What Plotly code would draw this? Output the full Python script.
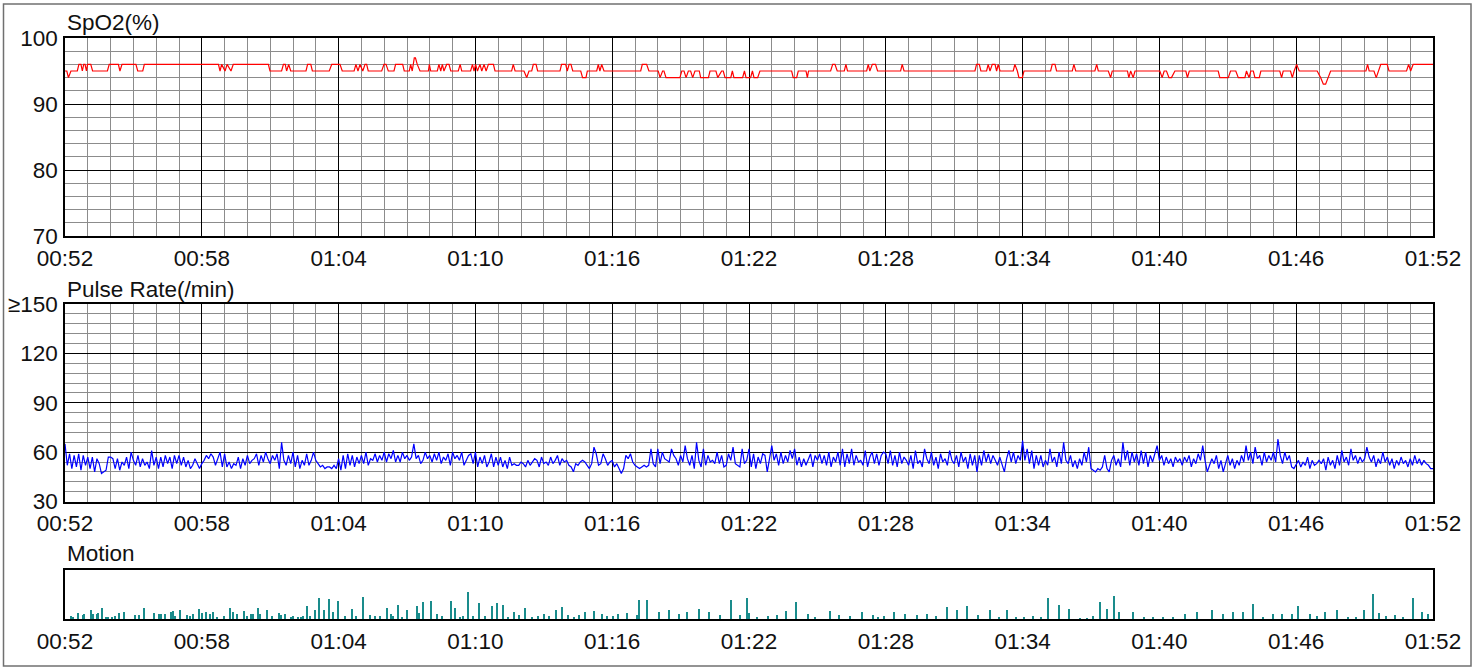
import plotly.graph_objects as go

W, H = 1482, 668

# ---------------- data ----------------
time_labels = ["00:52", "00:58", "01:04", "01:10", "01:16", "01:22",
               "01:28", "01:34", "01:40", "01:46", "01:52"]
tick_minutes = [0, 6, 12, 18, 24, 30, 36, 42, 48, 54, 60]

spo2_ticks = [70, 80, 90, 100]
spo2_tick_text = ["70", "80", "90", "100"]
pulse_ticks = [30, 60, 90, 120, 150]
pulse_tick_text = ["30", "60", "90", "120", "≥150"]

# SpO2 trace vertices (minutes after 00:52, %)
spo2_t = [
    0.00, 0.08, 0.15, 0.26, 0.54, 0.61, 0.70, 0.76, 0.82, 0.88, 0.94, 0.99, 1.13, 1.21, 1.86, 1.94,
    2.34, 2.41, 2.50, 3.11, 3.19, 3.41, 3.48, 6.73, 6.80, 6.87, 7.02, 7.11, 7.28, 7.38, 8.92, 8.99,
    9.50, 9.58, 9.66, 9.72, 9.81, 9.90, 10.57, 10.64, 10.78, 10.85, 11.59, 11.70,
    12.06, 12.16, 12.68, 12.76, 12.85, 12.94, 13.06, 13.16, 13.23, 13.30, 13.89,
    13.99, 14.08, 14.18, 14.43, 14.50, 14.81, 14.88, 15.10, 15.16, 15.23, 15.32, 15.37, 15.45, 15.57,
    15.94, 15.98, 16.04, 16.33, 16.40, 16.48, 16.55, 16.62, 16.74, 16.84, 16.92, 17.25, 17.33, 17.40,
    17.79, 17.87, 17.94, 18.01, 18.09, 18.20, 18.28, 18.38, 18.47, 18.57, 18.79, 18.86,
    19.59, 19.66, 19.74, 20.13, 20.25, 20.35, 20.47, 20.54, 20.66, 20.73, 21.71, 21.78, 21.96, 22.03,
    22.11, 22.19, 22.27, 22.62, 22.70, 22.85, 22.91, 23.32, 23.39, 23.46, 23.54, 23.64, 25.25, 25.32,
    25.51, 25.61, 26.02, 26.10,
    26.21, 26.27, 26.36, 26.97, 27.05, 27.15, 27.24, 27.34, 27.44, 27.53, 27.63, 27.82, 27.88, 28.22,
    28.29, 28.55, 28.63, 28.80, 28.87, 28.95, 29.20, 29.27, 29.34, 29.72, 29.80, 29.87, 30.07, 30.15,
    30.22, 30.38, 30.48,
    31.87, 31.94, 32.09, 32.16, 32.50, 32.56, 32.61, 33.58, 33.67, 33.77, 33.87, 34.18, 34.25, 34.32,
    35.16, 35.23, 35.30, 35.41, 35.55, 35.64, 36.65, 36.72, 36.80, 39.91, 39.98, 40.10, 40.17, 40.42,
    40.49, 40.57, 40.67, 40.79, 40.86, 40.93, 41.01, 41.59, 41.66, 41.77, 41.84, 41.99, 42.06, 43.23,
    43.30, 43.42, 43.49, 44.18, 44.25, 44.33, 45.17, 45.25, 45.32,
    45.76, 45.86, 45.93, 46.60, 46.66, 46.74, 46.85, 46.93, 48.02, 48.12, 48.21, 48.31, 48.42, 48.53,
    48.68, 49.16, 49.23, 49.31, 50.58, 50.65, 51.02, 51.12, 51.35, 51.46, 51.75, 51.82, 51.93, 52.01,
    52.12, 52.19, 52.38, 52.45, 53.28, 53.36, 53.43, 53.75, 53.83, 53.91, 54.02, 54.13, 54.92, 55.07,
    55.19, 55.29, 55.40, 55.51, 57.06, 57.13, 57.20, 57.41, 57.51, 57.61, 57.71, 57.99, 58.07, 58.84,
    58.93, 59.02, 59.13, 60.00,
]
spo2_v = [
    95, 95, 94, 95, 95, 96, 96, 95, 96, 96, 95, 96, 96, 95, 95, 96,
    96, 95, 96, 96, 95, 95, 96, 96, 95, 96, 95, 96, 95, 96, 96, 95,
    95, 96, 96, 95, 96, 95, 95, 96, 96, 95, 95, 96,
    96, 95, 95, 96, 95, 96, 95, 96, 96, 95, 95,
    96, 96, 95, 95, 96, 96, 95, 95, 96, 95, 97, 97, 96, 95,
    95, 96, 95, 95, 96, 95, 96, 95, 96, 96, 95, 95, 96, 95,
    95, 96, 95, 96, 95, 96, 95, 96, 95, 96, 96, 95,
    95, 96, 95, 95, 94, 95, 95, 96, 96, 95, 95, 96, 96, 95,
    96, 96, 95, 95, 94, 94, 95, 95, 96, 95, 96, 95, 95, 96,
    96, 95, 95, 94,
    95, 95, 94, 94, 95, 95, 94, 95, 95, 94, 95, 95, 94, 94,
    95, 95, 94, 95, 95, 94, 94, 95, 94, 94, 95, 94, 94, 95,
    94, 94, 95,
    95, 94, 94, 95, 95, 94, 95, 95, 96, 96, 95, 95, 96, 95,
    95, 96, 95, 96, 96, 95, 95, 96, 95, 95, 96, 96, 95, 95,
    96, 95, 96, 96, 95, 96, 95, 95, 96, 95, 94, 94, 95, 95,
    96, 96, 95, 95, 96, 95, 95, 96, 95,
    95, 94, 95, 95, 94, 95, 94, 95, 95, 94, 95, 95, 94, 94,
    95, 95, 94, 95, 95, 94, 94, 95, 95, 94, 94, 95, 94, 95,
    95, 94, 94, 95, 95, 94, 95, 95, 94, 95, 96, 95, 95, 94,
    93, 93, 94, 95, 95, 96, 95, 95, 94, 95, 96, 96, 95, 95,
    96, 95, 96, 96,
]

# Pulse rate, one reading every 0.1 minute from 00:52 to 01:52
pulse_v = [
    65, 52, 59, 50, 58, 51, 59, 49, 58, 52,
    57, 50, 57, 48, 56, 53, 47, 48, 49, 57,
    57, 56, 50, 56, 49, 54, 52, 57, 50, 60,
    55, 52, 58, 51, 56, 52, 54, 50, 61, 52,
    57, 50, 57, 51, 58, 53, 57, 50, 58, 53,
    58, 52, 57, 51, 55, 50, 52, 56, 53, 50,
    53, 55, 58, 56, 59, 57, 52, 56, 60, 51,
    59, 51, 54, 50, 53, 52, 57, 50, 56, 52,
    58, 53, 55, 56, 59, 52, 58, 54, 60, 56,
    53, 58, 55, 59, 50, 66, 55, 52, 58, 53,
    60, 51, 58, 50, 55, 52, 59, 52, 55, 60,
    55, 53, 51, 52, 50, 51, 51, 50, 52, 50,
    56, 49, 58, 50, 59, 52, 58, 51, 57, 53,
    58, 53, 60, 52, 56, 55, 59, 54, 58, 55,
    60, 54, 59, 56, 61, 54, 58, 54, 60, 56,
    58, 55, 57, 65, 56, 58, 53, 55, 60, 56,
    58, 54, 59, 55, 60, 53, 57, 55, 59, 52,
    60, 56, 58, 55, 60, 52, 55, 58, 59, 53,
    60, 51, 57, 53, 58, 51, 54, 59, 51, 57,
    52, 57, 51, 55, 50, 57, 52, 53, 52, 52,
    54, 53, 51, 55, 52, 54, 56, 55, 51, 57,
    53, 54, 52, 57, 53, 55, 58, 52, 56, 54,
    55, 52, 51, 48, 53, 52, 54, 55, 54, 52,
    50, 53, 63, 59, 52, 53, 59, 56, 52, 54,
    55, 51, 53, 50, 47, 50, 58, 56, 59, 54,
    52, 51, 50, 51, 52, 51, 52, 62, 53, 51,
    62, 53, 60, 56, 55, 54, 62, 58, 56, 52,
    58, 54, 64, 56, 52, 58, 50, 66, 55, 51,
    62, 52, 58, 54, 55, 53, 60, 53, 58, 51,
    52, 59, 55, 63, 53, 52, 51, 62, 53, 55,
    62, 51, 59, 50, 57, 53, 59, 58, 48, 56,
    64, 55, 59, 52, 60, 53, 58, 54, 61, 56,
    62, 52, 57, 51, 56, 52, 56, 59, 51, 58,
    55, 59, 53, 58, 52, 60, 51, 57, 54, 60,
    52, 62, 51, 59, 53, 62, 52, 58, 54, 55,
    52, 61, 51, 57, 60, 53, 59, 52, 58, 60,
    59, 53, 61, 52, 58, 51, 60, 53, 57, 55,
    52, 58, 50, 61, 53, 55, 51, 62, 56, 53,
    60, 52, 57, 50, 59, 54, 56, 52, 61, 55,
    53, 58, 51, 60, 54, 57, 50, 59, 52, 58,
    48, 58, 52, 61, 54, 59, 53, 58, 55, 52,
    57, 52, 48, 56, 61, 54, 60, 53, 58, 55,
    67, 55, 62, 53, 61, 50, 58, 52, 58, 51,
    55, 52, 62, 54, 57, 51, 60, 53, 66, 55,
    53, 58, 51, 55, 50, 56, 52, 60, 54, 63,
    50, 49, 48, 50, 49, 51, 58, 50, 48, 55,
    58, 52, 56, 51, 66, 55, 61, 52, 60, 54,
    59, 52, 61, 53, 60, 51, 58, 54, 60, 64,
    55, 58, 52, 57, 53, 56, 51, 57, 54, 56,
    52, 57, 54, 58, 51, 56, 53, 59, 55, 64,
    55, 48, 52, 56, 53, 58, 50, 55, 48, 53,
    58, 52, 56, 50, 55, 52, 58, 54, 64, 55,
    60, 53, 63, 56, 58, 52, 60, 54, 58, 55,
    60, 54, 68, 58, 53, 60, 55, 58, 51, 50,
    53, 55, 51, 54, 52, 57, 50, 55, 52, 53,
    55, 53, 56, 49, 57, 52, 55, 50, 58, 52,
    61, 54, 57, 52, 62, 55, 58, 53, 57, 54,
    56, 63, 57, 54, 58, 51, 56, 53, 60, 54,
    57, 52, 56, 50, 55, 52, 57, 53, 55, 51,
    56, 52, 58, 53, 56, 52, 55, 53, 52, 50,
    50,
]
pulse_t = [i / 10 for i in range(len(pulse_v))]

# Motion events (minutes after 00:52, relative intensity)
motion_t = [
    0.25, 0.37, 0.58, 0.77, 0.83, 1.13, 1.24, 1.39, 1.46, 1.64,
    1.80, 1.90, 2.05, 2.19, 2.38, 2.59, 3.07, 3.26, 3.46, 3.90,
    4.11, 4.20, 4.39, 4.63, 4.72, 4.82, 5.04, 5.37, 5.48, 5.63,
    5.89, 6.01, 6.18, 6.36, 6.51, 6.68, 6.97, 7.24, 7.35, 7.56,
    7.85, 7.97, 8.14, 8.26, 8.45, 8.55, 8.85, 9.06, 9.37, 9.46,
    9.66, 9.90, 10.01, 10.23, 10.34, 10.45, 10.63, 10.75, 10.96, 11.15,
    11.36, 11.56, 11.77, 11.99, 12.28, 12.57, 12.76, 13.06, 13.38, 13.60,
    13.82, 14.11, 14.28, 14.40, 14.59, 14.77, 14.99, 15.42, 15.54, 15.69,
    16.05, 16.30, 16.52, 16.92, 17.11, 17.32, 17.47, 17.66, 17.91, 18.17,
    18.42, 18.71, 18.93, 19.22, 19.44, 19.71, 19.93, 20.17, 20.47, 20.76,
    21.02, 21.23, 21.53, 21.78, 22.05, 22.34, 22.56, 22.82, 23.21, 23.54,
    23.78, 24.05, 24.27, 24.63, 25.07, 25.16, 25.54, 26.05, 26.50, 26.91,
    27.28, 27.79, 28.23, 28.73, 29.22, 29.60, 29.91, 29.98, 30.36, 30.83,
    31.21, 31.62, 32.06, 32.57, 32.89, 33.55, 33.96, 34.43, 34.95, 35.42,
    35.67, 35.93, 36.37, 36.84, 37.35, 37.82, 38.20, 38.70, 39.14, 39.54,
    40.06, 40.57, 40.95,
    41.30, 41.71, 42.06, 42.47, 42.79, 43.13, 43.60, 44.05, 44.52, 44.81,
    45.10, 45.40, 45.72, 46.00, 46.24, 46.86, 47.33, 47.74, 48.17, 48.61,
    49.12, 49.64, 50.32, 50.81, 51.24, 51.65, 52.12, 52.56, 53.00, 53.36,
    53.80, 54.10, 54.61, 54.90, 55.26, 55.78, 56.29, 56.62, 56.97, 57.38,
    57.64, 57.96, 58.33, 58.69, 59.14, 59.51, 59.80,
]
motion_v = [
    2.7, 1.3, 6.0, 3.7, 4.7, 9.3, 5.3, 5.3, 6.0, 10.7,
    1.3, 1.3, 1.3, 2.7, 6.0, 6.7, 3.7, 4.3, 10.7, 6.0,
    4.7, 5.3, 5.0, 6.7, 7.7, 2.7, 8.7, 3.7, 3.3, 5.3,
    10.0, 6.0, 7.3, 5.3, 7.3, 2.0, 2.7, 11.3, 7.3, 5.3,
    7.7, 2.7, 5.3, 4.7, 11.3, 4.7, 8.7, 2.7, 6.0, 3.7,
    5.3, 1.3, 2.7, 2.0, 1.3, 2.7, 12.7, 2.7, 9.3, 20.7,
    8.7, 20.0, 6.7, 18.0, 2.7, 10.0, 2.7, 22.0, 4.0, 2.7,
    3.3, 10.7, 5.3, 3.3, 14.0, 1.3, 8.7, 13.3, 6.0, 16.7,
    18.0, 4.7, 2.7, 18.0, 11.3, 2.0, 2.7, 26.7, 2.7, 16.0,
    2.7, 12.7, 16.0, 14.0, 1.3, 6.7, 4.0, 11.0, 1.3, 3.3,
    4.7, 3.3, 8.7, 12.0, 4.0, 2.0, 4.0, 6.7, 8.0, 4.7,
    3.3, 2.7, 5.3, 6.0, 4.0, 18.7, 18.7, 6.7, 9.3, 4.7,
    7.3, 10.0, 6.7, 4.0, 19.3, 4.0, 21.0, 6.0, 1.3, 2.7,
    4.0, 8.0, 17.3, 4.7, 1.3, 8.0, 4.0, 2.7, 6.7, 4.0,
    1.3, 2.7, 6.7, 4.7, 4.0, 4.7, 2.7, 12.0, 9.3, 13.3,
    4.0, 8.7, 1.3,
    8.7, 2.0, 2.0, 2.7, 1.3, 20.7, 13.7, 10.0, 0.7, 0.7,
    2.7, 16.7, 10.3, 22.7, 7.0, 7.3, 2.0, 2.0, 1.3, 1.3,
    5.3, 6.7, 8.7, 4.7, 7.3, 6.7, 14.7, 1.3, 4.7, 5.3,
    5.3, 13.3, 5.3, 2.7, 7.3, 8.7, 1.3, 1.3, 8.7, 24.7,
    6.0, 2.7, 4.0, 2.0, 21.3, 6.7, 5.3,
]

# ---------------- figure ----------------
FONT = "Liberation Sans, Arial, sans-serif"
FS = 22.5
x_domain = [65 / W, 1433 / W]


def ydom(top_px, bottom_px):
    return [1 - bottom_px / H, 1 - top_px / H]


fig = go.Figure()
fig.add_trace(go.Scatter(x=spo2_t, y=spo2_v, mode="lines",
                         line=dict(color="#ff0000", width=1.2),
                         xaxis="x", yaxis="y", hoverinfo="skip"))
fig.add_trace(go.Scatter(x=pulse_t, y=pulse_v, mode="lines",
                         line=dict(color="#0000ff", width=1.2),
                         xaxis="x2", yaxis="y2", hoverinfo="skip"))
fig.add_trace(go.Bar(x=motion_t, y=motion_v, width=0.045,
                     marker=dict(color="#1a8c8c", line=dict(width=0)),
                     xaxis="x3", yaxis="y3", hoverinfo="skip"))

tickfont = dict(family=FONT, size=FS, color="#111111")


def xaxis(anchor, grid):
    d = dict(domain=x_domain, anchor=anchor, range=[0, 60], automargin=False,
             tickmode="array", tickvals=tick_minutes, ticktext=time_labels,
             showgrid=grid, gridcolor="#000000", gridwidth=1.4,
             showline=True, mirror=True, linecolor="#000000", linewidth=1.5,
             ticks="outside", ticklen=1, tickcolor="rgba(0,0,0,0)",
             tickfont=tickfont, zeroline=False, fixedrange=True)
    if grid:
        d["minor"] = dict(tickmode="linear", tick0=0, dtick=1, showgrid=True,
                          gridcolor="#8c8c8c", gridwidth=1, ticks="")
    return d


def yaxis(dom, rng, tv, tt, minor_dtick, anchor):
    d = dict(domain=dom, anchor=anchor, range=rng, automargin=False,
             showline=True, mirror=True, linecolor="#000000", linewidth=1.5,
             zeroline=False, fixedrange=True, tickfont=tickfont)
    if tv is None:
        d.update(showgrid=False, showticklabels=False, ticks="")
    else:
        d.update(tickmode="array", tickvals=tv, ticktext=tt,
                 showgrid=True, gridcolor="#000000", gridwidth=1.4,
                 ticks="outside", ticklen=1, tickcolor="rgba(0,0,0,0)",
                 minor=dict(tickmode="linear", tick0=rng[0], dtick=minor_dtick,
                            showgrid=True, gridcolor="#8c8c8c", gridwidth=1, ticks=""))
    return d


fig.update_layout(
    width=W, height=H, autosize=False,
    margin=dict(l=0, r=0, t=0, b=0, pad=0),
    paper_bgcolor="white", plot_bgcolor="white",
    showlegend=False, hovermode=False, bargap=0,
    font=dict(family=FONT, size=FS, color="#111111"),
    xaxis=xaxis("y", True),
    yaxis=yaxis(ydom(38, 236), [70, 100], spo2_ticks, spo2_tick_text, 2, "x"),
    xaxis2=xaxis("y2", True),
    yaxis2=yaxis(ydom(304, 501.5), [30, 150], pulse_ticks, pulse_tick_text, 6, "x2"),
    xaxis3=xaxis("y3", False),
    yaxis3=yaxis(ydom(570, 619), [0, 49], None, None, None, "x3"),
    annotations=[
        dict(text="SpO2(%)", x=65 / W, y=1 - 23 / H, xref="paper", yref="paper",
             xanchor="left", yanchor="middle", showarrow=False,
             font=dict(family=FONT, size=FS, color="#111111")),
        dict(text="Pulse Rate(/min)", x=65 / W, y=1 - 289 / H, xref="paper", yref="paper",
             xanchor="left", yanchor="middle", showarrow=False,
             font=dict(family=FONT, size=FS, color="#111111")),
        dict(text="Motion", x=65 / W, y=1 - 553 / H, xref="paper", yref="paper",
             xanchor="left", yanchor="middle", showarrow=False,
             font=dict(family=FONT, size=FS, color="#111111")),
    ],
    shapes=[
        dict(type="rect", xref="paper", yref="paper",
             x0=3.5 / W, x1=1471 / W, y0=1 - 666 / H, y1=1 - 4 / H,
             line=dict(color="#707070", width=1.5), fillcolor="rgba(0,0,0,0)"),
    ],
)

fig.write_html("out.html", config={"displayModeBar": False},
               post_script="document.body.style.margin='0';document.body.style.overflow='hidden';")
